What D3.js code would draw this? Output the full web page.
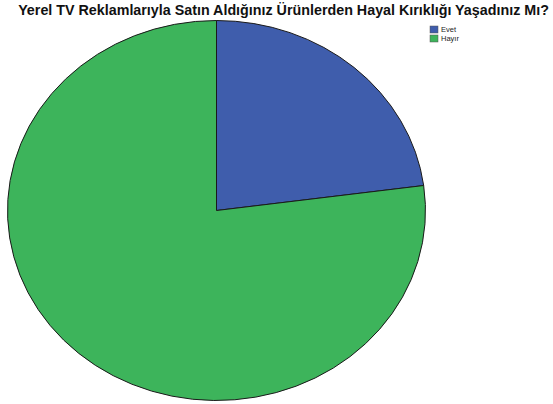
<!DOCTYPE html>
<html>
<head>
<meta charset="utf-8">
<script src="https://cdn.jsdelivr.net/npm/d3@7"></script>
<style>
  html, body { margin: 0; padding: 0; background: #fff; }
  svg { display: block; }
</style>
</head>
<body>
<svg id="chart" width="553" height="404"></svg>
<script>
// Answer categories and their shares (percent)
const categories = ["Evet", "Hayır"];
const values = [22.9, 77.1];
const colors = ["#3f5dac", "#3db45b"];
const title = "Yerel TV Reklamlarıyla Satın Aldığınız Ürünlerden Hayal Kırıklığı Yaşadınız Mı?";

const svg = d3.select("#chart");

// Title
svg.append("text")
  .attr("x", 283.5)
  .attr("y", 15)
  .attr("text-anchor", "middle")
  .attr("font-family", "Liberation Sans, Arial, sans-serif")
  .attr("font-weight", "bold")
  .attr("font-size", 14.3)
  .attr("fill", "#111")
  .text(title);

// Pie, drawn as an ellipse (horizontal stretch)
const cx = 216.5, cy = 210.5, rx = 209, ry = 190;
const color = d3.scaleOrdinal().domain(categories).range(colors);

const pie = d3.pie().sort(null).value(d => d.value);
const arc = d3.arc().innerRadius(0).outerRadius(ry);
const data = categories.map((c, i) => ({ name: c, value: values[i] }));

const g = svg.append("g")
  .attr("transform", `translate(${cx},${cy}) scale(${rx / ry},1)`);

g.selectAll("path")
  .data(pie(data))
  .join("path")
  .attr("d", arc)
  .attr("fill", d => color(d.data.name))
  .attr("stroke", "#1a1a1a")
  .attr("stroke-width", 1)
  .attr("vector-effect", "non-scaling-stroke");

// Legend
const legend = svg.append("g").attr("transform", "translate(430,26)");
const items = legend.selectAll("g")
  .data(categories)
  .join("g")
  .attr("transform", (d, i) => `translate(0,${i * 9})`);
items.append("rect")
  .attr("width", 8).attr("height", 7)
  .attr("fill", d => color(d))
  .attr("stroke", "#555").attr("stroke-width", 0.5);
items.append("text")
  .attr("x", 11).attr("y", 6)
  .attr("font-family", "Liberation Sans, Arial, sans-serif")
  .attr("font-size", 7.5)
  .attr("fill", "#222")
  .text(d => d);
</script>
</body>
</html>
